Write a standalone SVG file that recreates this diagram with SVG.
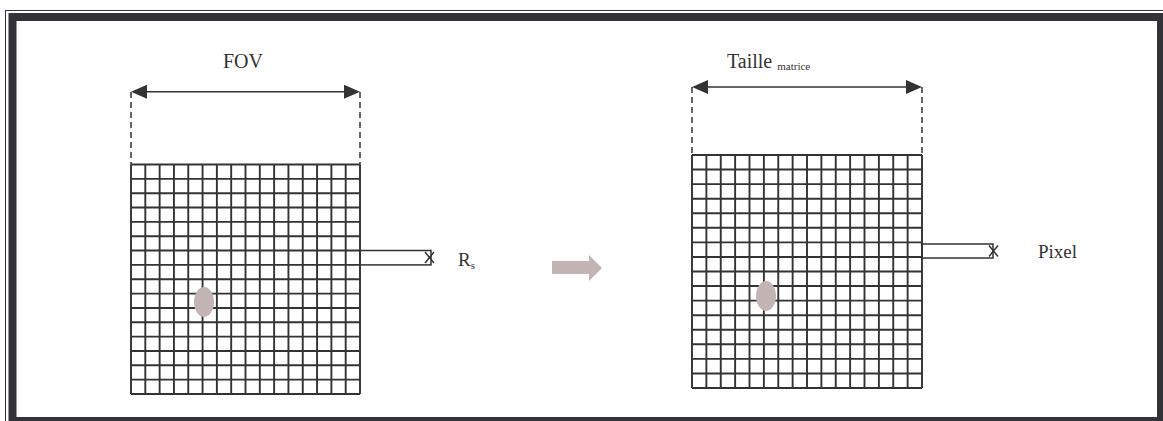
<svg xmlns="http://www.w3.org/2000/svg" width="1163" height="421" viewBox="0 0 1163 421">
<style>
.frame{fill:none;stroke:#333238}
.grid{fill:none;stroke:#333333;stroke-width:1.9}
.dash{fill:none;stroke:#333333;stroke-width:1.5;stroke-dasharray:6 4}
.dim{fill:none;stroke:#333333;stroke-width:1.5}
.head{fill:#333333}
.blob{fill:#c2b5b3}
.txt{font-family:"Liberation Serif","Times New Roman",serif;fill:#333333}
</style>
<rect width="1163" height="421" fill="#ffffff"/>
<g id="frame">
<rect class="frame" x="5.5" y="10.5" width="1170" height="420" stroke-width="1"/>
<rect class="frame" x="12.5" y="17" width="1148.5" height="404" stroke-width="8"/>
</g>
<g id="fov-label"><text class="txt" x="243" y="68" font-size="20" text-anchor="middle">FOV</text></g>
<g id="fov-grid">
<path class="grid" d="M131 164.5V394M145.31 164.5V394M159.63 164.5V394M173.94 164.5V394M188.25 164.5V394M202.56 164.5V394M216.88 164.5V394M231.19 164.5V394M245.5 164.5V394M259.81 164.5V394M274.13 164.5V394M288.44 164.5V394M302.75 164.5V394M317.06 164.5V394M331.38 164.5V394M345.69 164.5V394M360 164.5V394M131 164.5H360M131 178.84H360M131 193.19H360M131 207.53H360M131 221.88H360M131 236.22H360M131 250.56H360M131 264.91H360M131 279.25H360M131 293.59H360M131 307.94H360M131 322.28H360M131 336.63H360M131 350.97H360M131 365.31H360M131 379.66H360M131 394H360"/>
<ellipse class="blob" cx="204" cy="302" rx="10" ry="15"/>
</g>
<g id="rs-node">
<rect class="dim" x="360" y="250.5" width="71" height="14.4"/>
<path class="dim" d="M425 252L434 263M434 252L425 263" stroke-width="2.6"/>
<text class="txt" x="458" y="266" font-size="19">R<tspan font-size="11" dy="3">s</tspan></text>
</g>
<g id="big-arrow"><path class="blob" d="M552 261H589V255L602 268L589 281V274H552Z"/></g>
<g id="taille-label"><text class="txt" x="727" y="68" font-size="20">Taille <tspan font-size="11" dy="2">matrice</tspan></text></g>
<g id="matrix-grid">
<path class="grid" d="M692 155V388M706.38 155V388M720.75 155V388M735.13 155V388M749.5 155V388M763.88 155V388M778.25 155V388M792.63 155V388M807 155V388M821.38 155V388M835.75 155V388M850.13 155V388M864.5 155V388M878.88 155V388M893.25 155V388M907.63 155V388M922 155V388M692 155H922M692 169.56H922M692 184.13H922M692 198.69H922M692 213.25H922M692 227.81H922M692 242.38H922M692 256.94H922M692 271.5H922M692 286.06H922M692 300.63H922M692 315.19H922M692 329.75H922M692 344.31H922M692 358.88H922M692 373.44H922M692 388H922"/>
<ellipse class="blob" cx="766" cy="296" rx="10" ry="15"/>
</g>
<g id="pixel-node">
<rect class="dim" x="922" y="244" width="71" height="14"/>
<path class="dim" d="M989 245.5L998 256.5M998 245.5L989 256.5" stroke-width="2.6"/>
<text class="txt" x="1038" y="258" font-size="19">Pixel</text>
</g>
<g id="connectors">
<path class="dash" d="M131 92V164.5M360 92V164.5M692 87V155M922 87V155"/>
<path class="dim" d="M140 91.7H351M701 87H913"/>
<path class="head" d="M131 91.7L147 84.7V98.7ZM360 91.7L344 84.7V98.7Z"/>
<path class="head" d="M692 87L708 80V94ZM922 87L906 80V94Z"/>
</g>
</svg>
